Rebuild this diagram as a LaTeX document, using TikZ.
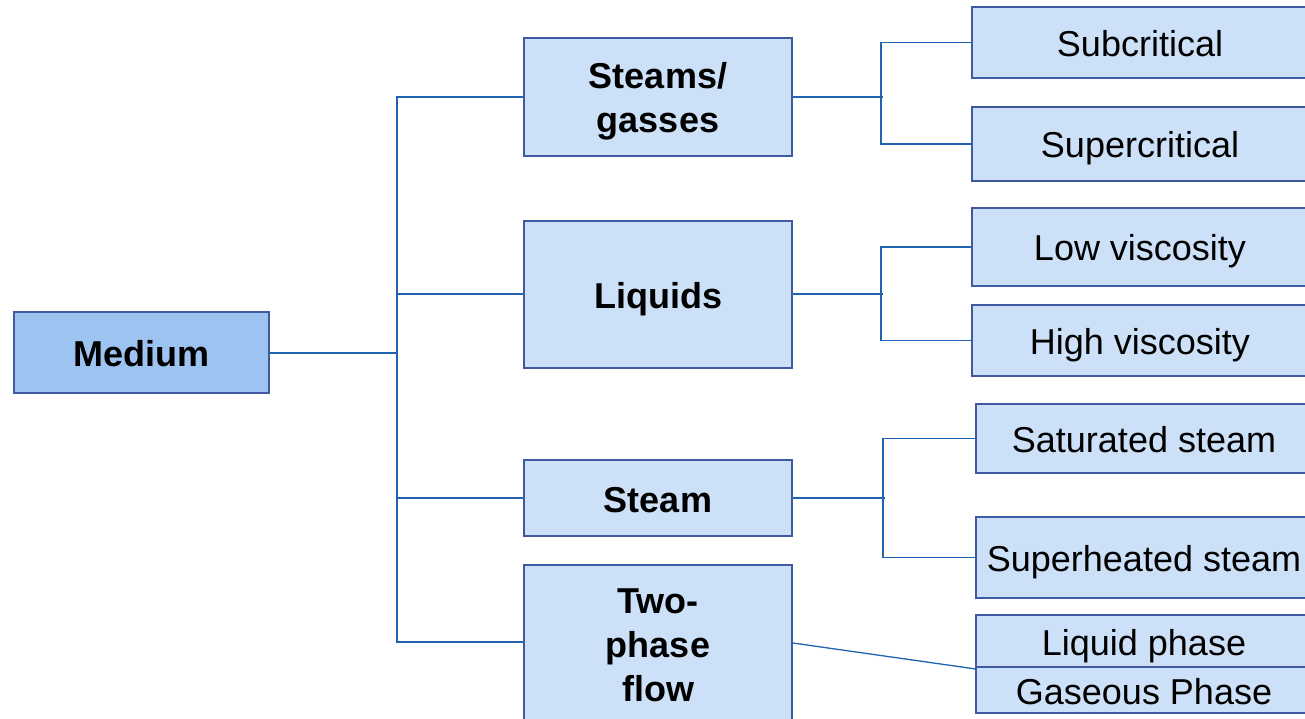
\documentclass[tikz,border=0pt]{standalone}
\usepackage{fontspec}
\setmainfont{Liberation Sans}
\definecolor{boxfill}{RGB}{204,224,247}
\definecolor{medfill}{RGB}{157,195,240}
\definecolor{boxline}{RGB}{63,90,160}
\definecolor{conline}{RGB}{31,98,176}
\tikzset{
  box/.style={draw=boxline, line width=1.8pt, fill=boxfill, rectangle, inner sep=0pt, align=center, font=\fontsize{36}{44}\selectfont, text=black},
  one/.style={text height=28pt, text depth=0pt},
  bbox/.style={box, font=\fontsize{36}{44}\selectfont\bfseries},
  lbl/.style={inner sep=0pt, align=center, font=\fontsize{36}{44}\selectfont\bfseries, text=black},
  stub/.style={draw=conline, line width=2pt},
  conn/.style={draw=conline, line width=1.3pt},
}
\begin{document}
\begin{tikzpicture}[x=1pt,y=-1pt]
\useasboundingbox (0,0) rectangle (1305,719);
\begin{scope}
\clip (0,0) rectangle (1305,719);
% level 0
\node[bbox, one, fill=medfill, minimum width=255pt, minimum height=81pt] (med) at (141.5,352.5) {Medium};
% level 1
\node[bbox, minimum width=268pt, minimum height=118pt] (gas) at (658,97) {};
\node[lbl] (gastext) at (658,101) {Steams/\\gasses};
\node[bbox, one, minimum width=268pt, minimum height=147pt] (liq) at (658,294.5) {Liquids};
\node[bbox, one, minimum width=268pt, minimum height=76pt] (stm) at (658,498) {Steam};
\node[bbox, minimum width=268pt, minimum height=190pt] (tp) at (658,660) {};
\node[lbl] (tptext) at (658,645) {Two-\\phase\\flow};
% level 2
\node[box, one, minimum width=336pt, minimum height=71pt] (sub) at (1140,42.5) {Subcritical};
\node[box, one, minimum width=336pt, minimum height=74pt] (sup) at (1140,144) {Supercritical};
\node[box, one, minimum width=336pt, minimum height=78pt] (low) at (1140,247) {Low viscosity};
\node[box, one, minimum width=336pt, minimum height=71pt] (high) at (1140,340.5) {High viscosity};
\node[box, one, minimum width=336pt, minimum height=69pt] (sat) at (1144,438.5) {Saturated steam};
\node[box, one, minimum width=336pt, minimum height=81pt] (sh) at (1144,557.5) {Superheated steam};
\node[box, one, minimum width=336pt, minimum height=52pt] (lp) at (1144,641) {Liquid phase};
\node[box, one, minimum width=336pt, minimum height=46pt] (gp) at (1144,690) {Gaseous Phase};
% connectors level 0 -> 1
\coordinate (trunk) at (397,0);
\coordinate (tpin) at (tp.west |- 0,642);
\coordinate (tpout) at (tp.east |- 0,643);
\draw[stub] (med.east) -- (med.east -| trunk);
\draw[conn] (gas.west) -| (tpin -| trunk) -- (tpin);
\draw[conn] ([yshift=0.5pt]liq.west) -- ([yshift=0.5pt]liq.west -| trunk);
\draw[conn] (stm.west) -- (stm.west -| trunk);
% level 1 -> 2
\draw[stub] (gas.east) -- ++(90,0);
\draw[conn] (sub.west) -| ([xshift=-90pt]sup.west) -- (sup.west);
\draw[stub] ([yshift=0.5pt]liq.east) -- ++(90,0);
\draw[conn] (low.west) -| ([xshift=-90pt]high.west) -- (high.west);
\draw[stub] (stm.east) -- ++(92,0);
\draw[conn] (sat.west) -| ([xshift=-92pt]sh.west) -- (sh.west);
\draw[conn] (tpout) -- ([yshift=-1pt]lp.south west);
\end{scope}
\end{tikzpicture}
\end{document}
